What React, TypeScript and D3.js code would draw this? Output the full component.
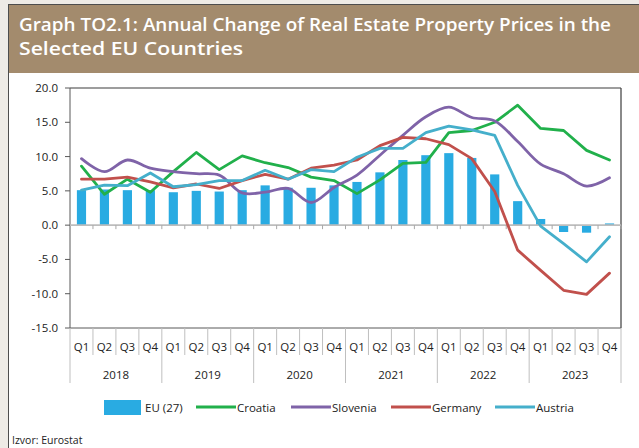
import * as d3 from 'd3';

const quarters = ['Q1', 'Q2', 'Q3', 'Q4'];
const years = ['2018', '2019', '2020', '2021', '2022', '2023'];

const euValues = [5.1, 5.2, 5.1, 5.1, 4.8, 5.0, 4.9, 5.1, 5.8, 5.45, 5.45, 5.8, 6.3, 7.7, 9.5, 10.2, 10.5, 9.8, 7.4, 3.5, 0.9, -1.0, -1.1, 0.25];
const croatia = [8.6, 4.5, 6.7, 4.8, 7.8, 10.6, 8.1, 10.1, 9.1, 8.4, 7.0, 6.5, 4.6, 6.6, 9.0, 9.15, 13.5, 13.8, 15.0, 17.5, 14.1, 13.8, 10.9, 9.5];
const slovenia = [9.7, 7.8, 9.5, 8.3, 7.8, 7.5, 7.3, 4.7, 4.8, 5.35, 3.3, 5.5, 7.3, 10.2, 13.1, 15.8, 17.2, 15.7, 15.2, 12.2, 8.9, 7.5, 5.7, 6.9];
const germany = [6.7, 6.7, 7.0, 6.3, 5.45, 6.0, 5.35, 6.5, 7.4, 6.7, 8.3, 8.75, 9.5, 11.6, 12.8, 12.6, 11.75, 9.7, 4.9, -3.65, -6.6, -9.5, -10.1, -7.0];
const austria = [5.1, 5.85, 5.75, 7.6, 5.6, 5.9, 6.5, 6.5, 8.0, 6.7, 8.1, 7.8, 9.9, 11.2, 11.2, 13.5, 14.45, 13.9, 13.1, 5.8, -0.15, -2.7, -5.35, -1.7];
const yTicks = [-15, -10, -5, 0, 5, 10, 15, 20];

const series = [
  { name: 'Croatia', values: croatia, color: '#21B04B', smooth: false },
  { name: 'Slovenia', values: slovenia, color: '#7F63A8', smooth: true },
  { name: 'Germany', values: germany, color: '#C1504C', smooth: false },
  { name: 'Austria', values: austria, color: '#45AFCB', smooth: false }
];

const FONT = "'Open Sans', 'Noto Sans', sans-serif";

export default function App() {
  const width = 639;
  const height = 448;
  const left = 70;
  const right = 621;
  const top = 88;
  const bottom = 328;

  const labels = years.flatMap((yr) => quarters.map((q) => `${yr} ${q}`));
  const idx = labels.map((_, i) => i);

  const x = d3.scaleBand<number>().domain(idx).range([left, right]).paddingInner(0).paddingOuter(0);
  const xBar = d3.scaleBand<number>().domain(idx).range([left, right]).paddingInner(0.6).paddingOuter(0.3);
  const y = d3.scaleLinear().domain([-15, 20]).range([bottom, top]);
  const cx = (i: number) => (x(i) ?? 0) + x.bandwidth() / 2;

  const boundaries = d3.range(0, idx.length + 1).map((k) => left + k * x.step());

  return (
    <div style={{ position: 'absolute', left: 0, top: 0 }}>
      <svg width={width} height={height} style={{ display: 'block', fontFamily: FONT }}>
        <rect x={0} y={0} width={width} height={height} fill="#EEEBE6" />
        <rect x={8.5} y={4.5} width={640} height={450} fill="#fff" stroke="#4d4d4d" strokeWidth={1} />
        <rect x={9} y={5} width={630} height={68} fill="#A38B6D" />
        <text x={19} y={31} fill="#fff" fontSize={18} fontWeight={600} textLength={592} lengthAdjust="spacingAndGlyphs">
          Graph TO2.1: Annual Change of Real Estate Property Prices in the
        </text>
        <text x={19} y={55} fill="#fff" fontSize={18} fontWeight={600} textLength={224} lengthAdjust="spacingAndGlyphs">
          Selected EU Countries
        </text>

        {/* y axis */}
        {yTicks.map((t) => (
          <g key={t}>
            <line x1={65} x2={left} y1={y(t)} y2={y(t)} stroke="#595959" />
            <text x={58} y={y(t)} dy="0.35em" textAnchor="end" fontSize={11.5} fill="#222">
              {t.toFixed(1)}
            </text>
          </g>
        ))}

        {/* frame */}
        <line x1={left} x2={right} y1={top} y2={top} stroke="#3c3c3c" strokeWidth={1.2} />
        <line x1={right} x2={right} y1={top} y2={bottom} stroke="#3c3c3c" strokeWidth={1.2} />
        <line x1={left} x2={left} y1={top} y2={bottom} stroke="#595959" />

        {/* bars */}
        {euValues.map((v, i) => (
          <rect
            key={i}
            x={xBar(i)}
            y={y(Math.max(0, v))}
            width={xBar.bandwidth()}
            height={Math.abs(y(v) - y(0))}
            fill="#29ABE2"
          />
        ))}

        {/* zero line with ticks */}
        <line x1={left} x2={right} y1={y(0)} y2={y(0)} stroke="#BDBDBD" strokeWidth={1.6} />
        {boundaries.slice(1).map((bx, k) => (
          <line key={k} x1={bx} x2={bx} y1={y(0)} y2={y(0) + 4} stroke="#A8A8A8" />
        ))}

        {/* lines */}
        {series.map((s) => {
          const gen = d3
            .line<number>()
            .x((_, i) => cx(i))
            .y((d) => y(d))
            .curve(s.smooth ? d3.curveCatmullRom.alpha(0.5) : d3.curveLinear);
          return (
            <path key={s.name} d={gen(s.values) ?? ''} fill="none" stroke={s.color} strokeWidth={2.8} strokeLinejoin="round" strokeLinecap="round" />
          );
        })}

        {/* category axis */}
        <line x1={left} x2={right} y1={bottom} y2={bottom} stroke="#595959" />
        {boundaries.map((bx, k) => (
          <line key={k} x1={bx} x2={bx} y1={bottom} y2={k % 4 === 0 ? 383 : 355} stroke="#BFBFBF" />
        ))}
        {labels.map((l, i) => (
          <text key={l} x={cx(i)} y={347} dy="0.35em" textAnchor="middle" fontSize={11.5} fill="#222">
            {quarters[i % 4]}
          </text>
        ))}
        {years.map((yr, j) => (
          <text key={yr} x={(boundaries[j * 4] + boundaries[j * 4 + 4]) / 2} y={375} dy="0.35em" textAnchor="middle" fontSize={11.5} fill="#222">
            {yr}
          </text>
        ))}

        {/* legend */}
        <rect x={104} y={400} width={37} height={15} fill="#29ABE2" />
        <text x={145} y={407.5} dy="0.35em" fontSize={11.5} fill="#222">EU (27)</text>
        {series.map((s, k) => {
          const lx = [196, 291, 391, 495][k];
          return (
            <g key={s.name}>
              <line x1={lx} x2={lx + 40} y1={407} y2={407} stroke={s.color} strokeWidth={2.8} />
              <text x={lx + 41} y={407.5} dy="0.35em" fontSize={11.5} fill="#222">{s.name}</text>
            </g>
          );
        })}

        <text x={12} y={444} fontSize={10.5} fill="#222">Izvor: Eurostat</text>
      </svg>
    </div>
  );
}
